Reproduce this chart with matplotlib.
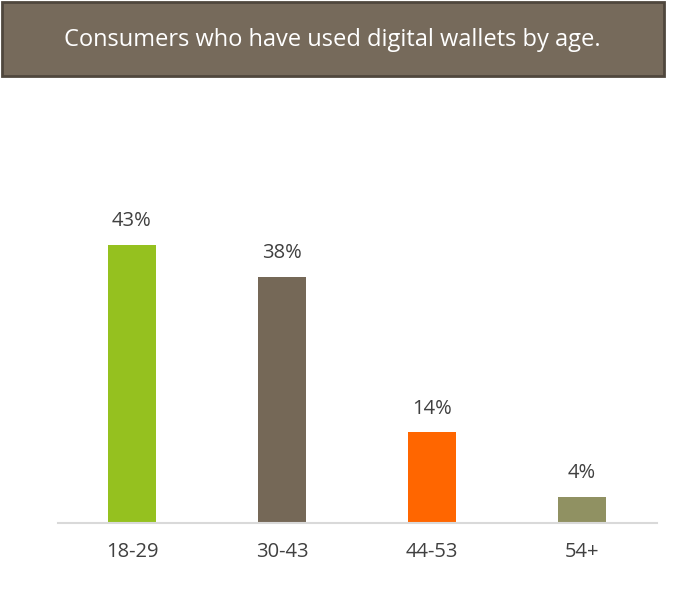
import matplotlib.pyplot as plt
from matplotlib.patches import Rectangle

# data
ages = ['18-29', '30-43', '44-53', '54+']
share = [43, 38, 14, 4]
colors = ['#95c11f', '#756857', '#ff6600', '#909162']

plt.rcParams['font.family'] = ['Open Sans', 'DejaVu Sans']

fig = plt.figure(figsize=(6.79, 6.05), dpi=100)

# title banner
fig.patches.append(Rectangle((2 / 679, 1 - 76 / 605), 662 / 679, 74 / 605,
                             transform=fig.transFigure, facecolor='#766a5b',
                             edgecolor='#4f473d', linewidth=2))
fig.text(332 / 679, 1 - 40 / 605, 'Consumers who have used digital wallets by age.',
         ha='center', va='center', color='white', fontsize=17)

ax = fig.add_axes([58 / 679, 82 / 605, 599 / 679, 423 / 605])
x = range(len(ages))
ax.bar(x, share, width=0.32, color=colors)

for i, v in enumerate(share):
    ax.annotate(f'{v}%', (i, v), xytext=(0, 10), textcoords='offset points',
                ha='center', va='bottom', fontsize=14.5, color='#404040')

ax.set_xlim(-74 / 150, -74 / 150 + 599 / 150)
ax.set_ylim(0, 423 / 6.465)
ax.set_xticks(list(x))
ax.set_xticklabels(ages, fontsize=14.5, color='#404040')
ax.tick_params(axis='x', length=0, pad=14)
ax.set_yticks([])
for s in ['top', 'right', 'left']:
    ax.spines[s].set_visible(False)
ax.spines['bottom'].set_color('#d9d9d9')
ax.spines['bottom'].set_linewidth(1.5)

fig.savefig('out.png', dpi=100)
